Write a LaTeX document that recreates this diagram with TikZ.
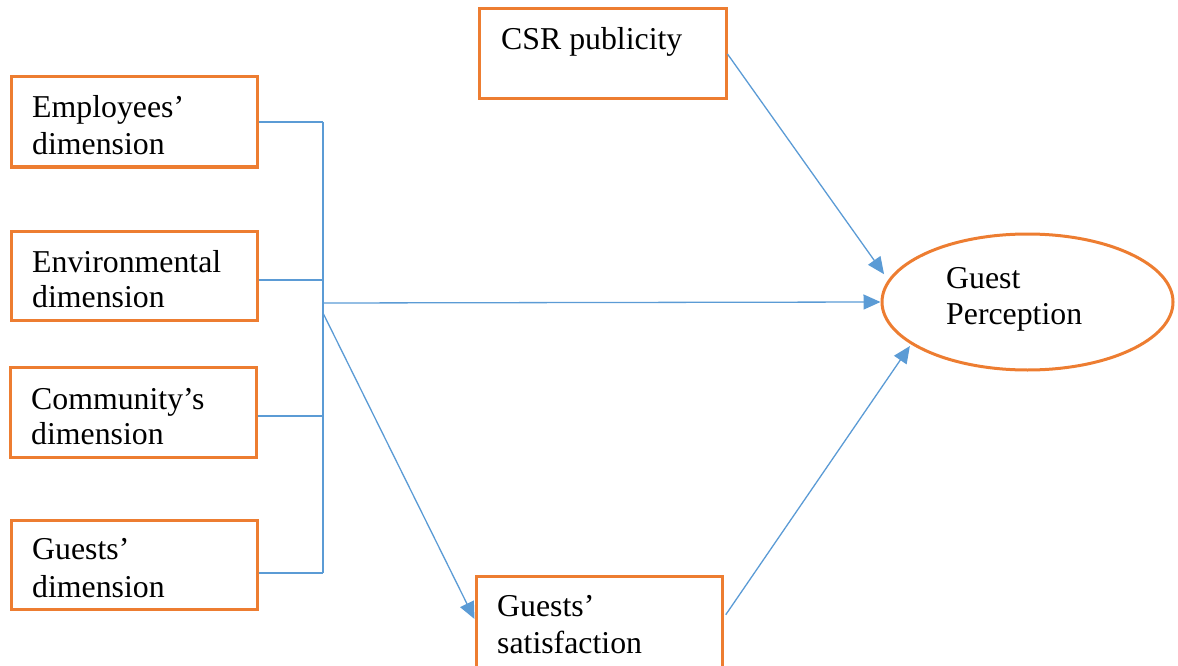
\documentclass[tikz,border=0pt]{standalone}
\usepackage{fontspec}
\setmainfont{Liberation Serif}
\usetikzlibrary{arrows.meta,shapes.geometric}
\definecolor{boxorange}{HTML}{ED7D31}
\definecolor{lineblue}{HTML}{5B9BD5}
\tikzset{
  box/.style={draw=boxorange, line width=3pt, rectangle, minimum width=246pt, minimum height=90pt, inner sep=0pt},
  oval/.style={draw=boxorange, line width=3pt, ellipse, minimum width=291pt, minimum height=136pt, inner sep=0pt},
  lbl/.style={anchor=base west, inner sep=0pt, font=\fontsize{31.8}{36}\selectfont},
  link/.style={draw=lineblue, line width=1.3pt},
  arr/.style={link, -{Triangle[length=17pt,width=15pt]}}
}
\begin{document}
\begin{tikzpicture}[x=1pt,y=-1pt]
\useasboundingbox (0,0) rectangle (1178,666);
% boxes
\node[box] (emp) at (134,122) {};
\node[box, minimum height=89pt] (env) at (134,275.5) {};
\node[box] (com) at (133,412) {};
\node[box, minimum height=89pt] (gd) at (134,564.5) {};
\node[box, minimum width=247pt] (csr) at (602.5,54) {};
\node[box, minimum height=92pt] (ss) at (599,622) {};
\node[oval] (gp) at (1027.5,302) {};
% texts
\node[lbl] (empA) at (32,118) {Employees’};
\node[lbl] (empB) at (32,155) {dimension};
\node[lbl] (envA) at (32,272) {Environmental};
\node[lbl] (envB) at (32,307) {dimension};
\node[lbl] (comA) at (31,409) {Community’s};
\node[lbl] (comB) at (31,444) {dimension};
\node[lbl] (gdA) at (32,559) {Guests’};
\node[lbl] (gdB) at (32,597) {dimension};
\node[lbl] (csrA) at (501,50) {CSR publicity};
\node[lbl] (ssA) at (497,616) {Guests’};
\node[lbl] (ssB) at (497,653) {satisfaction};
\node[lbl] (gpA) at (946,288) {Guest};
\node[lbl] (gpB) at (946,324) {Perception};
% bus
\coordinate (busT) at (323,122);
\coordinate (busEnv) at (323,280);
\coordinate (busCom) at (323,416);
\coordinate (busB) at (323,573);
\coordinate (outH) at (323,303);
\coordinate (outD) at (323,313);
\draw[link] (emp.east) -- (busT);
\draw[link] ([yshift=-4.5pt]env.east) -- (busEnv);
\draw[link] ([yshift=-4pt]com.east) -- (busCom);
\draw[link] ([yshift=-8.5pt]gd.east) -- (busB);
\draw[link] (busT) -- (busB);
% arrows
\draw[arr] (outH) -- (gp.west);
\draw[arr] (outD) -- ([yshift=3pt]ss.west);
\draw[arr, shorten >=7pt] (csr.east) -- (gp.171);
\draw[arr, shorten <=4pt, shorten >=2pt] ([yshift=4pt]ss.east) -- (gp.200);
\end{tikzpicture}
\end{document}
